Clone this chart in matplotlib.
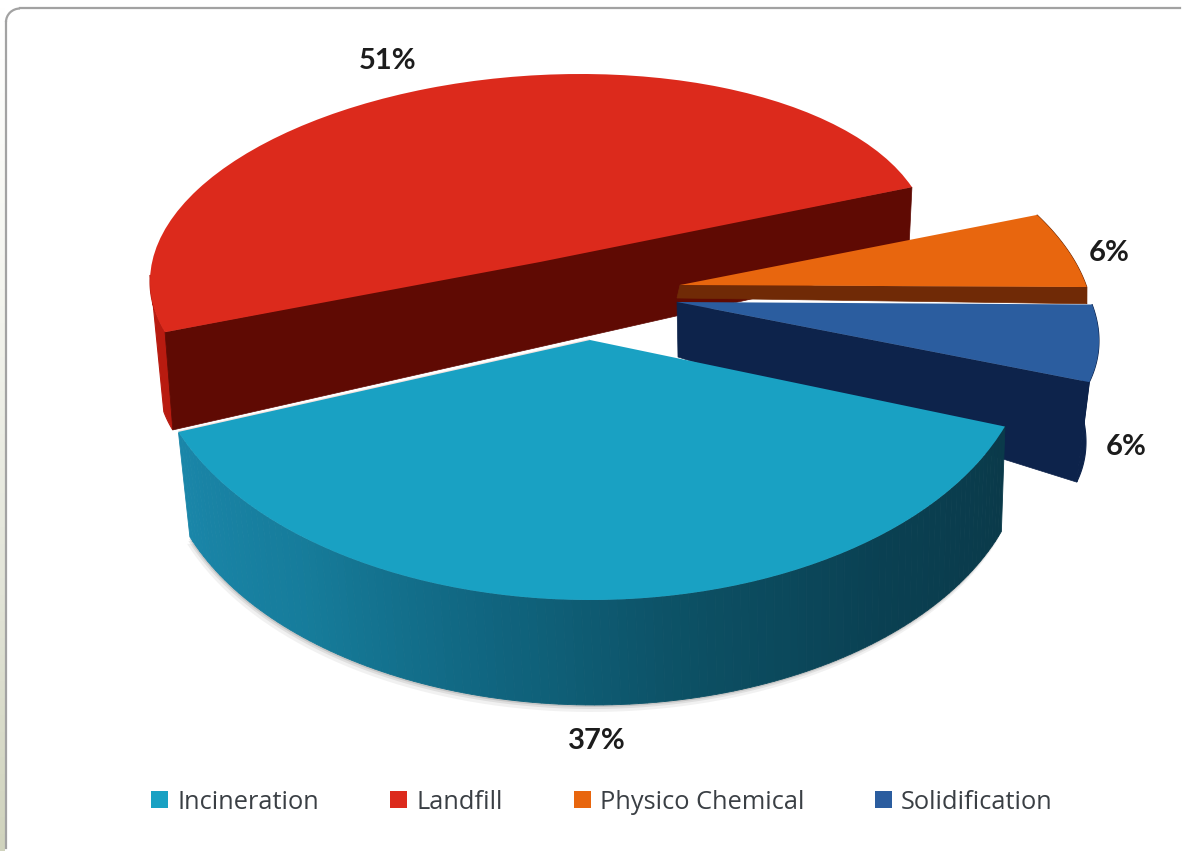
import numpy as np
import matplotlib
matplotlib.use("Agg")
import matplotlib.pyplot as plt
from matplotlib.colors import LinearSegmentedColormap
from matplotlib.patches import Arc, Patch, Polygon, Wedge
from matplotlib.transforms import Affine2D

categories = ["Incineration", "Landfill", "Physico Chemical", "Solidification"]
shares = [37, 51, 6, 6]
share_labels = ["37%", "51%", "6%", "6%"]

top_colors = ["#19a1c3", "#dc2a1c", "#e8660e", "#2b5d9f"]
face_colors = [None, "#5f0a03", "#702a06", "#0d234b"]
rim_colors = [None, "#b81b10", "#702a06", "#0d234b"]

# slice geometry in pixels: centre x, centre y, half width, half height, tilt
top_geom = [(590, 340, 440, 260, 0), (540, 262, 390, 187, 0.05),
            (680, 285, 413, 205, -0.0925), (677, 302, 422, 198, -0.092)]
low_geom = [(594, 445, 432, 260, 0), (542, 349, 384, 187, 0.08),
            (677, 298, 416, 205, -0.101), (678, 357, 408, 198, -0.208)]
start_angle = [200.7, 17.5, 10, -12.3]
# the perspective of the original stretches some slices a little
span_scale = [1.05, 0.972, 0.935, 1.05]
label_pos = [(597, 741), (388, 61), (1109, 253), (1126, 447)]

side_cmap = LinearSegmentedColormap.from_list(
    "side", ["#1a86a9", "#167c9b", "#10657f", "#0c4f63", "#0a4052", "#0a3a4a"])


def matrix(geom):
    cx, cy, a, b, k = geom
    return Affine2D.from_values(a, -k * a, 0, -b, cx, cy)


def arc(geom, t0, t1, n=80):
    t = np.radians(np.linspace(t0, t1, n))
    return matrix(geom).transform(np.column_stack([np.cos(t), np.sin(t)]))


fig = plt.figure(figsize=(11.89, 8.55), dpi=100)
ax = fig.add_axes([0, 0, 1, 1])

# card behind the chart: faded strip on the left, grey line on top and left only
strip = np.linspace(0, 1, 100).reshape(-1, 1)
ax.imshow(strip, extent=(0, 5, 851, 0), aspect="auto", zorder=0,
          cmap=LinearSegmentedColormap.from_list("s", ["#ffffff", "#f4f5ef", "#e4e6da", "#d0d3bd"]))
ax.set_xlim(0, 1189)
ax.set_ylim(855, 0)
ax.axis("off")
line_col = "#a2a2a2"
ax.plot([6, 6], [22, 848], color=line_col, lw=1.6, zorder=0.6)
ax.plot([20, 1180], [8.5, 8.5], color=line_col, lw=1.6, zorder=0.6)
ax.add_patch(Arc((20, 22), 28, 27, theta1=180, theta2=270, color=line_col, lw=1.6, zorder=0.6))

angles = []
for i in range(len(shares)):
    span = shares[i] * 3.6 * span_scale[i]
    angles.append((start_angle[i], start_angle[i] + span))

# soft shadow under the big slice
t0, t1 = angles[0]
for off, alpha in [(7, 0.08), (4, 0.12), (2, 0.18)]:
    pts = arc(low_geom[0], t0, t1) + [-off * 0.4, off]
    ax.fill(pts[:, 0], pts[:, 1], color="#555555", alpha=alpha, lw=0, zorder=1)

# draw back to front: landfill, physico chemical, solidification, incineration
z = 2
for i in [1, 2, 3]:
    t0, t1 = angles[i]
    upper = arc(top_geom[i], t0, t1)
    lower = arc(low_geom[i], t0, t1)
    if i == 1:
        # outer wall seen on the far left, from the widest point of the ellipse down
        hull = np.vstack([arc(top_geom[i], 178, t1), arc(low_geom[i], 190, t1)[::-1]])
        ax.add_patch(Polygon(hull, fc=rim_colors[i], ec=rim_colors[i], lw=0.8, zorder=z))
        face = np.array([upper[0], upper[-1], lower[-1], lower[0]])
    else:
        ax.add_patch(Polygon(np.vstack([upper, lower[::-1]]), fc=rim_colors[i], ec=rim_colors[i],
                             lw=0.8, zorder=z))
        # the cut side that faces the viewer runs from the apex to the lower corner
        face = np.array([top_geom[i][:2], upper[0], lower[0], low_geom[i][:2]])
    ax.add_patch(Polygon(face, fc=face_colors[i], ec=face_colors[i], lw=0.5, zorder=z + 0.1))
    ax.add_patch(Wedge((0, 0), 1, t0, t1, fc=top_colors[i], ec="none", zorder=z + 0.2,
                       transform=matrix(top_geom[i]) + ax.transData))
    z += 1

t0, t1 = angles[0]
edges = np.linspace(t0, t1, 120)
for j in range(len(edges) - 1):
    up = arc(top_geom[0], edges[j], edges[j + 1], 2)
    lo = arc(low_geom[0], edges[j], edges[j + 1], 2)
    col = side_cmap(j / (len(edges) - 2))
    ax.add_patch(Polygon(np.vstack([up, lo[::-1]]), fc=col, ec=col, lw=0.6, zorder=z))
ax.add_patch(Wedge((0, 0), 1, t0, t1, fc=top_colors[0], ec="none", zorder=z + 0.2,
                   transform=matrix(top_geom[0]) + ax.transData))
# thin white line where the big slices meet
ax.plot(*np.array([arc(top_geom[0], t0, t0, 1)[0], top_geom[0][:2]]).T,
        color="#f4e4e0", lw=1.6, zorder=z + 0.1, solid_capstyle="butt")

for txt, (x, y) in zip(share_labels, label_pos):
    ax.text(x, y, txt, ha="center", va="center", fontsize=21, fontweight="bold",
            family="Lato", color="#1c1c1c", zorder=10)

handles = [Patch(fc=c, ec="none") for c in top_colors]
ax.legend(handles, categories, ncol=4, loc="center", frameon=False,
          bbox_to_anchor=(602, 802), bbox_transform=ax.transData,
          prop={"family": "Open Sans", "size": 18.3}, labelcolor="#3a3f44",
          handlelength=0.67, handleheight=0.67, handletextpad=0.35, columnspacing=2.8)

fig.savefig("out.png", dpi=100)
